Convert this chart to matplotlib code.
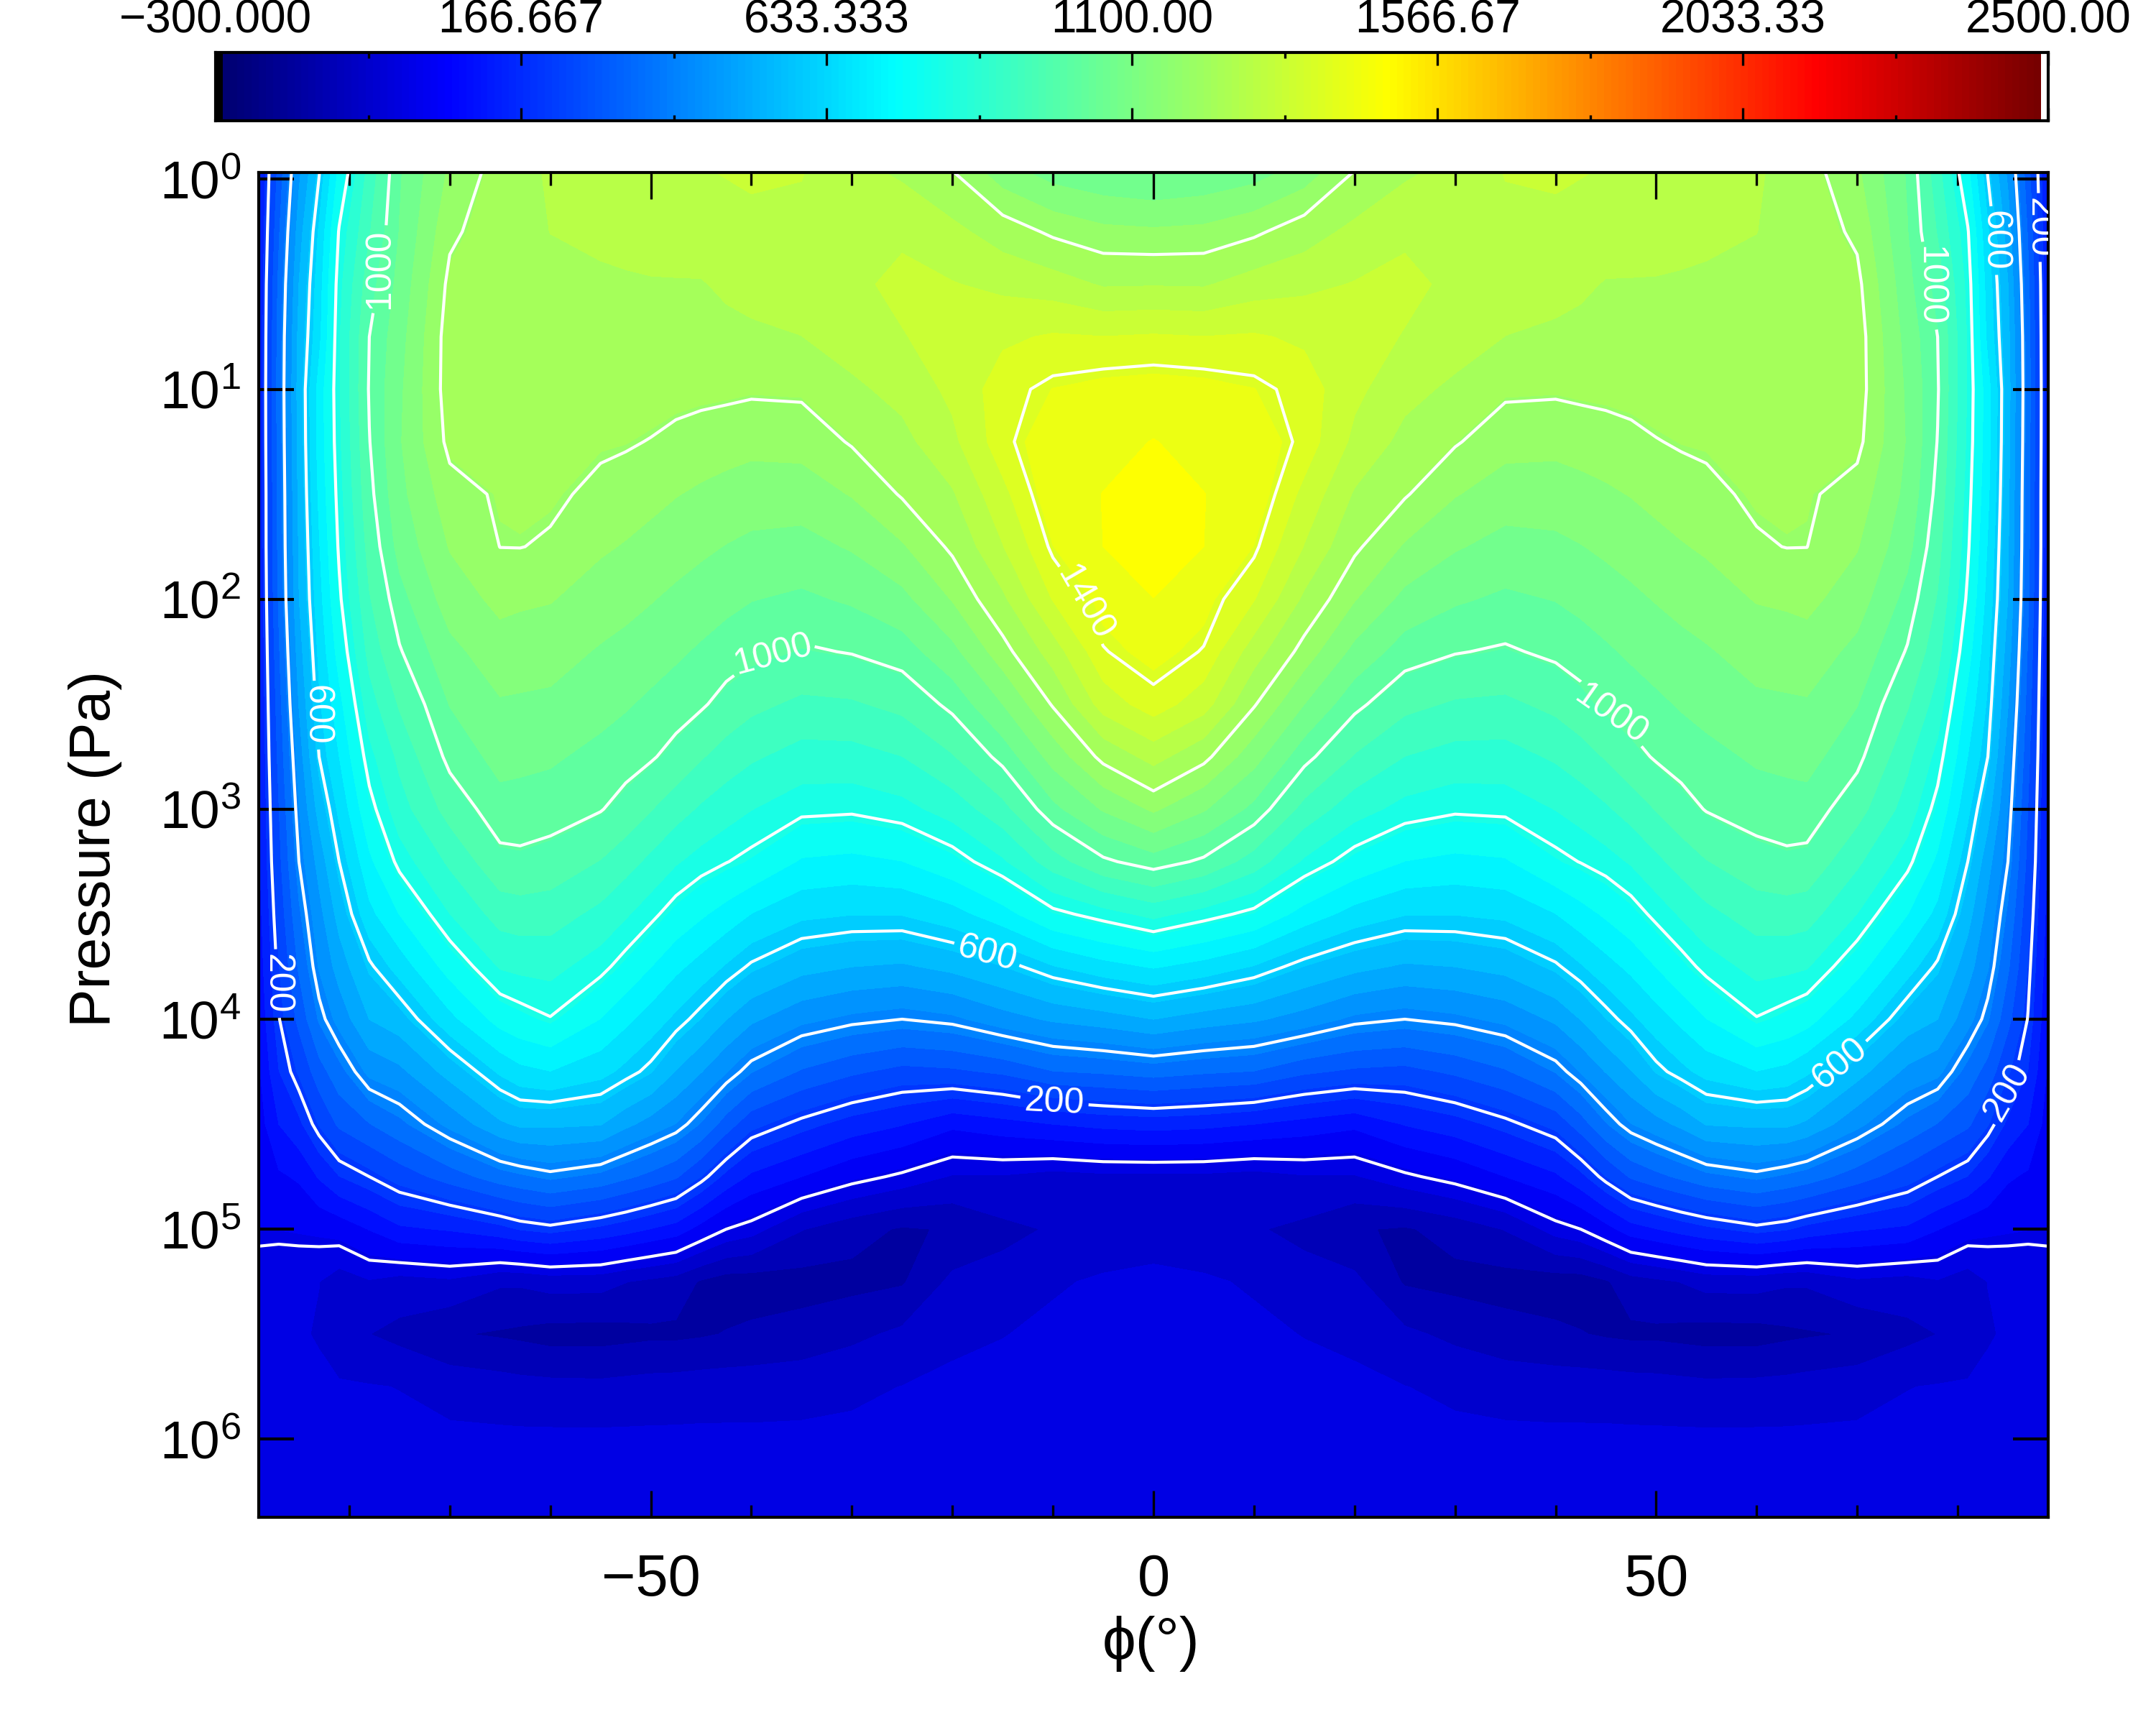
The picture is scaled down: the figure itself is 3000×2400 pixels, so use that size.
import numpy as np
import matplotlib
matplotlib.use('Agg')
import matplotlib.pyplot as plt
from matplotlib.colors import LinearSegmentedColormap, ListedColormap, Normalize

plt.rcParams['font.family'] = ['Liberation Sans', 'DejaVu Sans']
plt.rcParams['mathtext.fontset'] = 'custom'
plt.rcParams['mathtext.rm'] = 'Liberation Sans'
plt.rcParams['mathtext.default'] = 'regular'

# log10 of pressure for the table rows, latitudes of the southern half
log_p = [-0.04, 0.25, 0.5, 0.75, 1, 1.25, 1.5, 1.75, 2, 2.25, 2.5, 2.75, 3,
         3.25, 3.5, 3.75, 4, 4.25, 4.5, 4.75, 5, 5.25, 5.5, 5.75, 6, 6.38]
lats_south = [-89, -87, -85, -83, -81, -78, -75, -70, -65, -63, -60, -55, -52.5, -50, -47.5, -45,
              -42.5, -40, -35, -30, -25, -20, -15, -10, -5, 0]

# temperature, one list per latitude
t_m89 = [106, 112, 118, 120, 122, 122, 120, 120, 118, 115, 112, 110, 108, 105, 95, 85, 72, 55, 38, 22, 12, -25, -28, -25, -23, -22]
t_m87 = [288, 315, 335, 345, 348, 345, 340, 338, 330, 315, 300, 285, 268, 254, 235, 215, 197, 165, 115, 55, 12, -30, -30, -26, -24, -22]
t_m85 = [465, 505, 530, 545, 552, 548, 542, 535, 528, 505, 480, 450, 425, 400, 365, 330, 285, 225, 155, 70, 15, -32, -35, -28, -24, -22]
t_m83 = [595, 640, 660, 670, 705, 705, 695, 680, 665, 645, 625, 600, 550, 497, 460, 430, 380, 300, 222, 120, 20, -40, -45, -30, -25, -22]
t_m81 = [750, 805, 825, 835, 835, 830, 820, 808, 790, 760, 720, 685, 645, 600, 550, 500, 445, 355, 280, 165, 30, -65, -85, -33, -25, -22]
t_m78 = [912, 940, 975, 1000, 1005, 998, 985, 965, 940, 910, 870, 825, 780, 725, 670, 590, 530, 440, 320, 200, 65, -45, -92, -38, -26, -22]
t_m75 = [1042, 1050, 1065, 1080, 1090, 1095, 1085, 1065, 1030, 995, 950, 905, 870, 815, 738, 656, 560, 465, 360, 240, 105, -60, -108, -42, -28, -22]
t_m70 = [1160, 1190, 1213, 1225, 1225, 1214, 1180, 1155, 1125, 1085, 1050, 1015, 965, 902, 840, 760, 670, 550, 440, 295, 120, -50, -140, -60, -30, -22]
t_m65 = [1222, 1230, 1232, 1232, 1228, 1218, 1207, 1200.5, 1165, 1130, 1095, 1065, 1030, 983, 914, 845, 758, 642, 520, 350, 150, -85, -150, -70, -30, -24]
t_m63 = [1240, 1243, 1238, 1236, 1231, 1220, 1212, 1201, 1160, 1125, 1093, 1060, 1030, 987, 920, 853, 776, 670, 540, 365, 170, -85, -155, -75, -30, -24]
t_m60 = [1262, 1256, 1245, 1240, 1233, 1216, 1208, 1195, 1155, 1120, 1090, 1055, 1025, 976, 917, 857, 797, 684, 540, 385, 185, -72, -165, -78, -30, -24]
t_m55 = [1275, 1265, 1248, 1240, 1228, 1207, 1190, 1159, 1127, 1095, 1065, 1034, 1003, 942, 878, 815, 736, 651, 533, 360, 155, -73, -165, -80, -30, -24]
t_m525 = [1280, 1270, 1250, 1240, 1225, 1205, 1179, 1148, 1116, 1084, 1053, 1021, 979, 913, 847, 778, 698, 619, 491, 333, 136, -91, -160, -76, -30, -23]
t_m50 = [1292, 1275, 1252, 1240, 1222, 1198, 1167, 1135, 1103, 1071, 1038, 1006, 947, 880, 813, 738, 661, 585, 457, 307, 113, -104, -155, -72, -30, -22]
t_m475 = [1298, 1280, 1252, 1238, 1218, 1187, 1154, 1122, 1089, 1056, 1024, 981, 914, 846, 775, 698, 622, 527, 424, 277, 92, -117, -155, -70, -30, -22]
t_m45 = [1305, 1285, 1252, 1235, 1215, 1178, 1144, 1110, 1075, 1041, 1007, 949, 885, 821, 745, 665, 580, 480, 370, 218, 43, -150, -150, -66, -30, -22]
t_m425 = [1310, 1290, 1265, 1240, 1212, 1172, 1135, 1098, 1062, 1025, 981, 921, 862, 802, 716, 628, 531, 429, 297, 152, 0, -170, -142, -65, -30, -20]
t_m40 = [1315, 1295, 1275, 1245, 1208, 1166, 1127, 1088, 1050, 1011, 958, 900, 842, 784, 684, 592, 488, 377, 234, 105, -20, -170, -135, -65, -30, -20]
t_m35 = [1310, 1295, 1280, 1255, 1210, 1170, 1126, 1082, 1039, 993, 933, 872, 812, 731, 645, 548, 439, 316, 185, 63, -90, -165, -125, -60, -30, -20]
t_m30 = [1272, 1285, 1298, 1280, 1245, 1205, 1155, 1105, 1055, 1003, 938, 873, 808, 723, 635, 530, 414, 280, 145, 20, -125, -160, -105, -50, -30, -20]
t_m25 = [1245, 1300, 1318, 1305, 1272, 1240, 1205, 1146, 1085, 1024, 959, 892, 824, 736, 636, 522, 400, 253, 118, -10, -150, -150, -82, -40, -28, -20]
t_m20 = [1200, 1270, 1310, 1325, 1320, 1295, 1250, 1210, 1155, 1085, 1014, 940, 862, 775, 665, 545, 415, 260, 75, -45, -140, -80, -50, -32, -24, -20]
t_m15 = [1120, 1230, 1295, 1350, 1385, 1388, 1345, 1305, 1245, 1180, 1100, 1017, 926, 833, 716, 580, 455, 280, 95, -45, -105, -75, -42, -28, -22, -20]
t_m10 = [1075, 1190, 1280, 1365, 1412, 1440, 1440, 1410, 1362, 1280, 1205, 1120, 1034, 919, 785, 630, 486, 320, 115, -60, -88, -45, -33, -25, -22, -20]
t_m05 = [1055, 1165, 1250, 1360, 1425, 1445, 1464, 1463, 1425, 1397, 1330, 1215, 1105, 990, 820, 665, 505, 330, 130, -52, -65, -36, -28, -22, -20, -20]
t_000 = [1042, 1160, 1252, 1365, 1430, 1465, 1490, 1492, 1462, 1425, 1385, 1275, 1160, 1025, 855, 690, 530, 345, 138, -52, -58, -32, -25, -22, -20, -20]

# white isotherms, where their labels sit (lat, log10 p) and how they are turned
line_levels = [0, 200, 400, 600, 800, 1000, 1200, 1400]
label_spots = [(-87, 3.83), (-82.6, 2.55), (-78.1, 0.42), (-38.2, 2.22), (-7.4, 2.03),
               (-16.3, 3.65), (-9.8, 4.35), (46.6, 2.49), (68.1, 4.2), (85, 4.35),
               (78.1, 0.5), (84.3, 0.29), (88.1, 0.23)]
label_angles = [-90, -90, 90, 15, -60, -15, -3, -35, 40, 60, -90, -90, -90]

cbar_min, cbar_max = -300, 2500
cbar_labels = ['\u2212300.000', '166.667', '633.333', '1100.00', '1566.67', '2033.33', '2500.00']
y_decades = [0, 1, 2, 3, 4, 5, 6]

half = np.column_stack([t_m89, t_m87, t_m85, t_m83, t_m81, t_m78, t_m75, t_m70, t_m65, t_m63, t_m60, t_m55, t_m525,
                        t_m50, t_m475, t_m45, t_m425, t_m40, t_m35, t_m30, t_m25, t_m20, t_m15, t_m10, t_m05, t_000])
temp = np.hstack([half, half[:, -2::-1]])
lats = np.array(lats_south + [-v for v in lats_south[-2::-1]])

# IDL style colour table, 256 cells, first black and last white
table = LinearSegmentedColormap.from_list('idl', [(0, (0, 0, 0.43)), (0.125, (0, 0, 1)), (0.37, (0, 1, 1)),
                                                  (0.505, (0.5, 1, 0.5)), (0.64, (1, 1, 0)), (0.875, (1, 0, 0)),
                                                  (1, (0.45, 0, 0))], N=256)
cells = table(np.linspace(0, 1, 256))
cells[0] = (0, 0, 0, 1)
cells[-1] = (1, 1, 1, 1)
cmap = ListedColormap(cells)
norm = Normalize(cbar_min, cbar_max)

W, H = 3000, 2400
fig = plt.figure(figsize=(10, 8), dpi=300)
ax = fig.add_axes([360 / W, 1 - 2111 / H, (2850 - 360) / W, (2111 - 240) / H])
cax = fig.add_axes([300 / W, 1 - 168 / H, (2850 - 300) / W, (168 - 73) / H])

ax.contourf(lats, log_p, temp, levels=np.linspace(cbar_min, cbar_max, 55), cmap=cmap, norm=norm)
lines = ax.contour(lats, log_p, temp, levels=line_levels, colors='white', linewidths=1.0)
labels = ax.clabel(lines, fmt='%d', fontsize=12, colors='white', inline=True, inline_spacing=6, manual=label_spots)
for t, angle in zip(labels, label_angles):
    t.set_clip_on(True)
    t.set_rotation(angle)

ax.set_xlim(-89, 89)
ax.set_ylim(6.372, -0.032)
ax.set_xticks([-50, 0, 50])
ax.set_xticks(np.arange(-80, 81, 10), minor=True)
ax.set_yticks(y_decades)
ax.set_yticklabels(['$10^{%d}$' % d for d in y_decades])
ax.tick_params(axis='x', which='major', direction='in', top=True, length=8.8, width=0.8, labelsize=19.5, pad=12)
ax.tick_params(axis='x', which='minor', direction='in', top=True, length=4.2, width=0.8)
ax.tick_params(axis='y', which='major', direction='in', right=True, length=11.8, width=1, labelsize=18, pad=6)
for s in ax.spines.values():
    s.set_linewidth(1)

cax.imshow(np.arange(256)[None, :], cmap=cmap, aspect='auto', extent=[cbar_min, cbar_max, 0, 1], interpolation='nearest')
ticks = np.linspace(cbar_min, cbar_max, 7)
cax.set_xticks(ticks)
cax.set_xticks((ticks[:-1] + ticks[1:]) / 2, minor=True)
cax.set_xticklabels(cbar_labels)
cax.set_yticks([])
cax.tick_params(axis='x', which='major', direction='in', top=True, bottom=True, labeltop=True, labelbottom=False,
                length=4.3, width=0.8, labelsize=15.3, pad=3.5)
cax.tick_params(axis='x', which='minor', direction='in', top=True, bottom=True, length=2, width=0.8)
for s in cax.spines.values():
    s.set_linewidth(1)

fig.text(837 / 1568, 1 - 1195 / 1254, '\u03d5(\u00b0)', fontsize=20, ha='center', va='center')
fig.text(69 / 1568, 1 - 617 / 1254, 'Pressure (Pa)', fontsize=19.3, rotation=90, ha='center', va='center')

fig.savefig('out.png', dpi=300)
